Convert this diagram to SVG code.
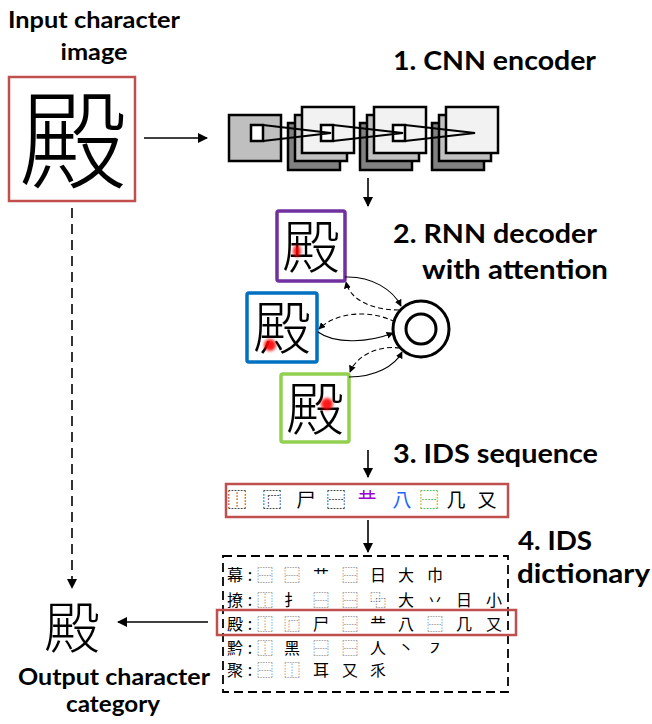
<svg xmlns="http://www.w3.org/2000/svg" width="652" height="724" viewBox="0 0 652 724">
  <style>
    .lbl { font-family: "Lato", "Open Sans", sans-serif; font-weight: 700; fill: #000; }
    .cjk { font-family: "Noto Sans CJK JP", "Noto Sans CJK SC", sans-serif; fill: #000; }
    .big { font-weight: 300; }
    .ids { fill: #444; }
    .idc { font-weight: 700; }
    .red { fill: none; stroke: #c0504d; stroke-width: 2.5; }
    .fm { stroke: #000; stroke-width: 2.5; }
    .line { fill: none; stroke: #000; stroke-width: 1.6; }
    .dash { stroke-dasharray: 10 6; }
    .thin { fill: none; stroke: #000; stroke-width: 1.1; }
    .thindash { stroke-dasharray: 5 3; }
  </style>
  <defs>
    <marker id="ah" viewBox="0 0 10 10" refX="9" refY="5" markerWidth="10" markerHeight="10" markerUnits="userSpaceOnUse" orient="auto">
      <path d="M0,0 L10,5 L0,10 z" fill="#000"/>
    </marker>
    <marker id="ahs" viewBox="0 0 10 10" refX="9" refY="5" markerWidth="7" markerHeight="7" markerUnits="userSpaceOnUse" orient="auto">
      <path d="M0,0 L10,5 L0,10 z" fill="#000"/>
    </marker>
    <filter id="soft" x="-1" y="-1" width="3" height="3">
      <feGaussianBlur stdDeviation="1.6"/>
    </filter>
  </defs>

  <!-- titles -->
  <g id="labels">
    <text class="lbl" x="8" y="28" font-size="22" textLength="172" lengthAdjust="spacingAndGlyphs">Input character</text>
    <text class="lbl" x="94" y="60" font-size="22" textLength="67" lengthAdjust="spacingAndGlyphs" text-anchor="middle">image</text>
    <text class="lbl" x="393" y="70" font-size="27" textLength="203" lengthAdjust="spacingAndGlyphs">1. CNN encoder</text>
    <text class="lbl" x="393" y="243" font-size="27" textLength="204" lengthAdjust="spacingAndGlyphs">2. RNN decoder</text>
    <text class="lbl" x="422" y="279" font-size="27" textLength="186" lengthAdjust="spacingAndGlyphs">with attention</text>
    <text class="lbl" x="393" y="463" font-size="27" textLength="205" lengthAdjust="spacingAndGlyphs">3. IDS sequence</text>
    <text class="lbl" x="518" y="550" font-size="27" textLength="74" lengthAdjust="spacingAndGlyphs">4. IDS</text>
    <text class="lbl" x="517" y="583" font-size="27" textLength="133" lengthAdjust="spacingAndGlyphs">dictionary</text>
    <text class="lbl" x="18" y="685" font-size="22" textLength="192" lengthAdjust="spacingAndGlyphs">Output character</text>
    <text class="lbl" x="113" y="712" font-size="22" textLength="94" lengthAdjust="spacingAndGlyphs" text-anchor="middle">category</text>
  </g>

  <!-- input image -->
  <g id="input">
    <rect class="red" x="9" y="77" width="126" height="124"/>
    <text class="cjk big" x="73" y="180" font-size="108" text-anchor="middle">殿</text>
  </g>

  <!-- CNN encoder: input map and three stacks of feature maps -->
  <g id="cnn">
    <rect class="fm" x="229" y="115" width="52" height="46" fill="#bfbfbf"/>
    <rect class="fm" x="251" y="125" width="12" height="16" fill="#fff"/>

    <rect class="fm" x="288" y="123" width="52" height="47" fill="#808080"/>
    <rect class="fm" x="295" y="115" width="52" height="46" fill="#bfbfbf"/>
    <rect class="fm" x="302" y="107" width="52" height="46" fill="#f2f2f2"/>
    <rect class="fm" x="321" y="125" width="12" height="16" fill="#fff"/>

    <rect class="fm" x="360" y="123" width="52" height="47" fill="#808080"/>
    <rect class="fm" x="367" y="115" width="52" height="46" fill="#bfbfbf"/>
    <rect class="fm" x="374" y="107" width="52" height="46" fill="#f2f2f2"/>
    <rect class="fm" x="393" y="125" width="12" height="16" fill="#fff"/>

    <rect class="fm" x="432" y="123" width="52" height="47" fill="#808080"/>
    <rect class="fm" x="439" y="115" width="52" height="46" fill="#bfbfbf"/>
    <rect class="fm" x="446" y="107" width="52" height="46" fill="#f2f2f2"/>

    <g fill="none" stroke="#000" stroke-width="2.2">
      <path d="M263,125 L331,133 L263,141"/>
      <path d="M333,125 L403,133 L333,141"/>
      <path d="M405,125 L475,133 L405,141"/>
    </g>
  </g>

  <!-- decoder steps with attention spots -->
  <g id="step1">
    <rect x="277" y="211" width="68" height="70" rx="2" fill="#fff" stroke="#7030a0" stroke-width="3.5"/>
    <text class="cjk big" x="311" y="268" font-size="58" text-anchor="middle">殿</text>
    <ellipse cx="297" cy="251" rx="4" ry="6" fill="#ff0000" opacity="0.85" filter="url(#soft)"/>
  </g>
  <g id="step2">
    <rect x="247" y="293" width="70" height="69" rx="2" fill="#fff" stroke="#0070c0" stroke-width="3.5"/>
    <text class="cjk big" x="282" y="349" font-size="58" text-anchor="middle">殿</text>
    <circle cx="270" cy="345" r="6" fill="#ff0000" opacity="0.9" filter="url(#soft)"/>
  </g>
  <g id="step3">
    <rect x="281" y="374" width="68" height="68" rx="2" fill="#fff" stroke="#92d050" stroke-width="3.5"/>
    <text class="cjk big" x="315" y="430" font-size="58" text-anchor="middle">殿</text>
    <circle cx="327" cy="404" r="6" fill="#ff0000" opacity="0.9" filter="url(#soft)"/>
  </g>
  <g id="rnn">
    <circle cx="421" cy="329" r="28" fill="#fff" stroke="#000" stroke-width="3"/>
    <circle cx="421" cy="329" r="15" fill="none" stroke="#000" stroke-width="3"/>
  </g>

  <!-- IDS sequence -->
  <g id="sequence">
    <rect class="red" x="226" y="484" width="282" height="33"/>
    <g class="cjk" font-size="19" text-anchor="middle">
      <text class="idc" x="237" y="507">⿰</text>
      <text class="idc" x="272" y="507">⿸</text>
      <text x="306" y="507">尸</text>
      <text class="idc" x="336" y="507">⿱</text>
      <text x="367" y="507" fill="#9a00d0">龷</text>
      <text x="402" y="507" fill="#1a66ff">八</text>
      <text class="idc" x="429" y="507" fill="#22a22a">⿱</text>
      <text x="456" y="507">几</text>
      <text x="487" y="507">又</text>
    </g>
  </g>

  <!-- IDS dictionary -->
  <g id="dictionary">
    <rect x="223" y="556" width="285" height="136" fill="none" stroke="#000" stroke-width="1.8" stroke-dasharray="9 5"/>
    <g class="cjk" font-size="16" text-anchor="middle">
      <text x="235" y="581">幕</text><text x="250" y="581">:</text>
      <text class="ids" x="265" y="581">⿱</text><text class="ids" x="292" y="581">⿱</text>
      <text x="321" y="581">艹</text><text class="ids" x="350" y="581">⿱</text>
      <text x="378" y="581">日</text><text x="406" y="581">大</text><text x="435" y="581">巾</text>

      <text x="235" y="606">撩</text><text x="250" y="606">:</text>
      <text class="ids" x="265" y="606">⿰</text><text x="292" y="606">扌</text>
      <text class="ids" x="321" y="606">⿱</text><text class="ids" x="350" y="606">⿱</text>
      <text class="ids" x="378" y="606">⿻</text><text x="406" y="606">大</text>
      <text x="435" y="606">丷</text><text x="464" y="606">日</text><text x="494" y="606">小</text>

      <text x="235" y="630">殿</text><text x="250" y="630">:</text>
      <text class="ids" x="265" y="630">⿰</text><text class="ids" x="292" y="630">⿸</text>
      <text x="321" y="630">尸</text><text class="ids" x="350" y="630">⿱</text>
      <text x="378" y="630">龷</text><text x="406" y="630">八</text>
      <text class="ids" x="435" y="630">⿱</text><text x="464" y="630">几</text><text x="494" y="630">又</text>

      <text x="235" y="654">黔</text><text x="250" y="654">:</text>
      <text class="ids" x="265" y="654">⿰</text><text x="292" y="654">黑</text>
      <text class="ids" x="321" y="654">⿱</text><text class="ids" x="350" y="654">⿱</text>
      <text x="378" y="654">人</text><text x="406" y="654">丶</text><text x="435" y="654">㇇</text>

      <text x="235" y="676">聚</text><text x="250" y="676">:</text>
      <text class="ids" x="265" y="676">⿱</text><text class="ids" x="292" y="676">⿰</text>
      <text x="321" y="676">耳</text><text x="350" y="676">又</text><text x="378" y="676">乑</text>
    </g>
    <rect class="red" x="217" y="610" width="299" height="25"/>
  </g>

  <!-- output -->
  <g id="output">
    <text class="cjk big" x="72" y="648" font-size="56" text-anchor="middle">殿</text>
  </g>

  <!-- connectors -->
  <g id="connectors">
    <path class="line" d="M144,138 L207,138" marker-end="url(#ah)"/>
    <path class="line" d="M368,178 L368,206" marker-end="url(#ah)"/>
    <path class="line" d="M368,450 L368,477" marker-end="url(#ah)"/>
    <path class="line" d="M368,520 L368,552" marker-end="url(#ah)"/>
    <path class="line" d="M208,622 L118,622" marker-end="url(#ah)"/>
    <path class="line dash" d="M72,208 L72,588" marker-end="url(#ah)"/>

    <path class="thin" d="M345,277 C372,276 393,290 401,306" marker-end="url(#ahs)"/>
    <path class="thin thindash" d="M399,310 C372,310 350,300 346,282" marker-end="url(#ahs)"/>
    <path class="thin thindash" d="M395,322 C370,309 336,312 319,329" marker-end="url(#ahs)"/>
    <path class="thin" d="M318,332 C336,345 370,342 393,333" marker-end="url(#ahs)"/>
    <path class="thin thindash" d="M400,348 C376,345 356,357 350,372" marker-end="url(#ahs)"/>
    <path class="thin" d="M349,377 C375,377 395,366 402,352" marker-end="url(#ahs)"/>
  </g>
</svg>
